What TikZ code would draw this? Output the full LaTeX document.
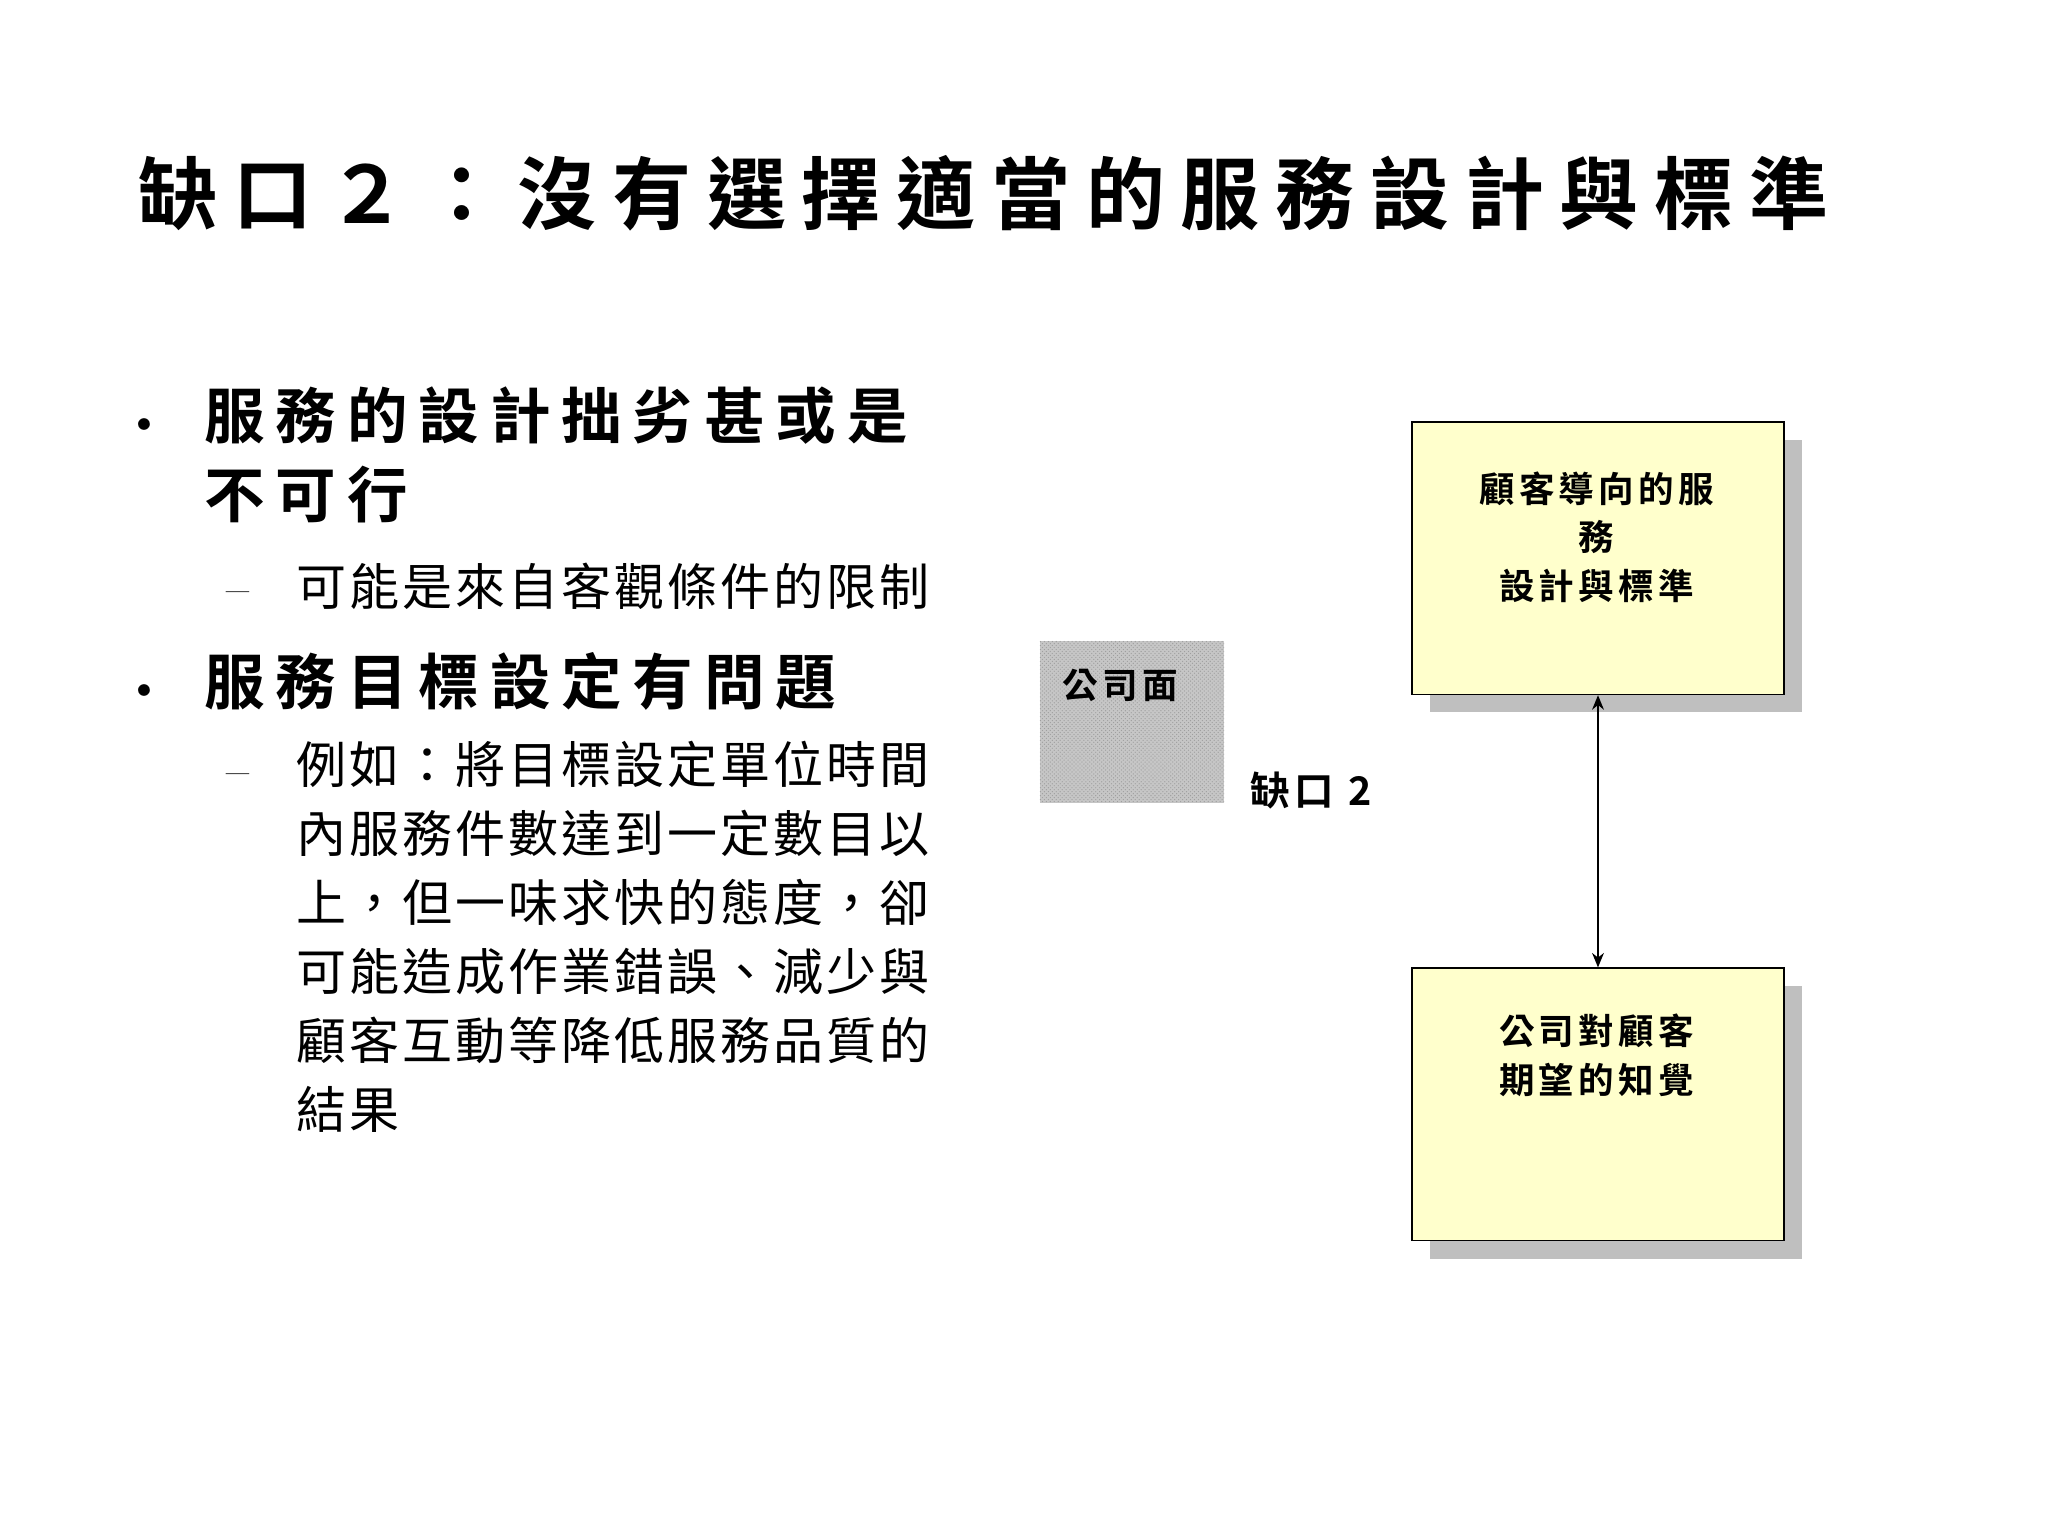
\documentclass[tikz,border=0pt]{standalone}
\usepackage{fontspec}
\usetikzlibrary{patterns,arrows.meta}
\newfontfamily\cjkT[LetterSpace=20]{Noto Sans CJK TC Bold}
\newfontfamily\cjkB[LetterSpace=18]{Noto Sans CJK TC Bold}
\newfontfamily\cjkR[LetterSpace=6]{Noto Sans CJK TC}
\newfontfamily\cjkS[LetterSpace=12]{Noto Sans CJK TC Bold}
\begin{document}
\begin{tikzpicture}[x=1pt,y=-1pt,
  txt/.style={anchor=base west,inner sep=0pt},
  boxy/.style={draw=black,line width=1.2pt,fill={rgb,255:red,255;green,255;blue,204},minimum width=283pt,minimum height=207pt,anchor=north west,inner sep=0pt},
  shad/.style={fill={rgb,255:red,191;green,191;blue,191},draw=none,minimum width=283pt,minimum height=207pt,anchor=north west,inner sep=0pt},
  blab/.style={align=center,font=\cjkS\fontsize{27}{37}\selectfont,anchor=north,inner sep=0pt}]
\useasboundingbox (0,0) rectangle (1556,1167);
\node[txt,font=\cjkT\fontsize{60}{70}\selectfont] (title) at (105,170) {缺口２：沒有選擇適當的服務設計與標準};
\node[txt,font=\fontsize{40}{40}\selectfont] (b1) at (95,333) {•};
\node[txt,font=\cjkB\fontsize{46}{60}\selectfont] (t1) at (155,333) {服務的設計拙劣甚或是};
\node[txt,font=\cjkB\fontsize{46}{60}\selectfont] (t1b) at (155,393) {不可行};
\node[txt,font=\fontsize{38}{40}\selectfont] (d1) at (172,460) {–};
\node[txt,font=\cjkR\fontsize{38}{52}\selectfont] (s1) at (225,460) {可能是來自客觀條件的限制};
\node[txt,font=\fontsize{40}{40}\selectfont] (b2) at (95,535) {•};
\node[txt,font=\cjkB\fontsize{46}{60}\selectfont] (t2) at (155,535) {服務目標設定有問題};
\node[txt,font=\fontsize{38}{40}\selectfont] (d2) at (172,598) {–};
\node[txt,font=\cjkR\fontsize{38}{52.4}\selectfont,align=left,anchor=north west] (s2) at (225,563) {例如：將目標設定單位時間\\內服務件數達到一定數目以\\上，但一味求快的態度，卻\\可能造成作業錯誤、減少與\\顧客互動等降低服務品質的\\結果};
\fill[gray!45] (790,487) rectangle (930,610);
\fill[pattern=crosshatch dots,pattern color=gray!75] (790,487) rectangle (930,610);
\node[txt,font=\cjkS\fontsize{27}{30}\selectfont] (co) at (807,531) {公司面};
\node[txt,font=\cjkS\fontsize{30}{30}\selectfont] (gap) at (950,612) {缺口 2};
\node[shad] at (1086,334) {};
\node[boxy] (up) at (1072,320) {};
\node[blab] at (1213,358) {顧客導向的服\\務\\設計與標準};
\node[shad] at (1086,749) {};
\node[boxy] (lo) at (1072,735) {};
\node[blab] at (1213,770) {公司對顧客\\期望的知覺};
\draw[line width=1.2pt,{Stealth[length=11pt,width=9pt]}-{Stealth[length=11pt,width=9pt]}] (up.south) -- (lo.north);
\end{tikzpicture}
\end{document}
